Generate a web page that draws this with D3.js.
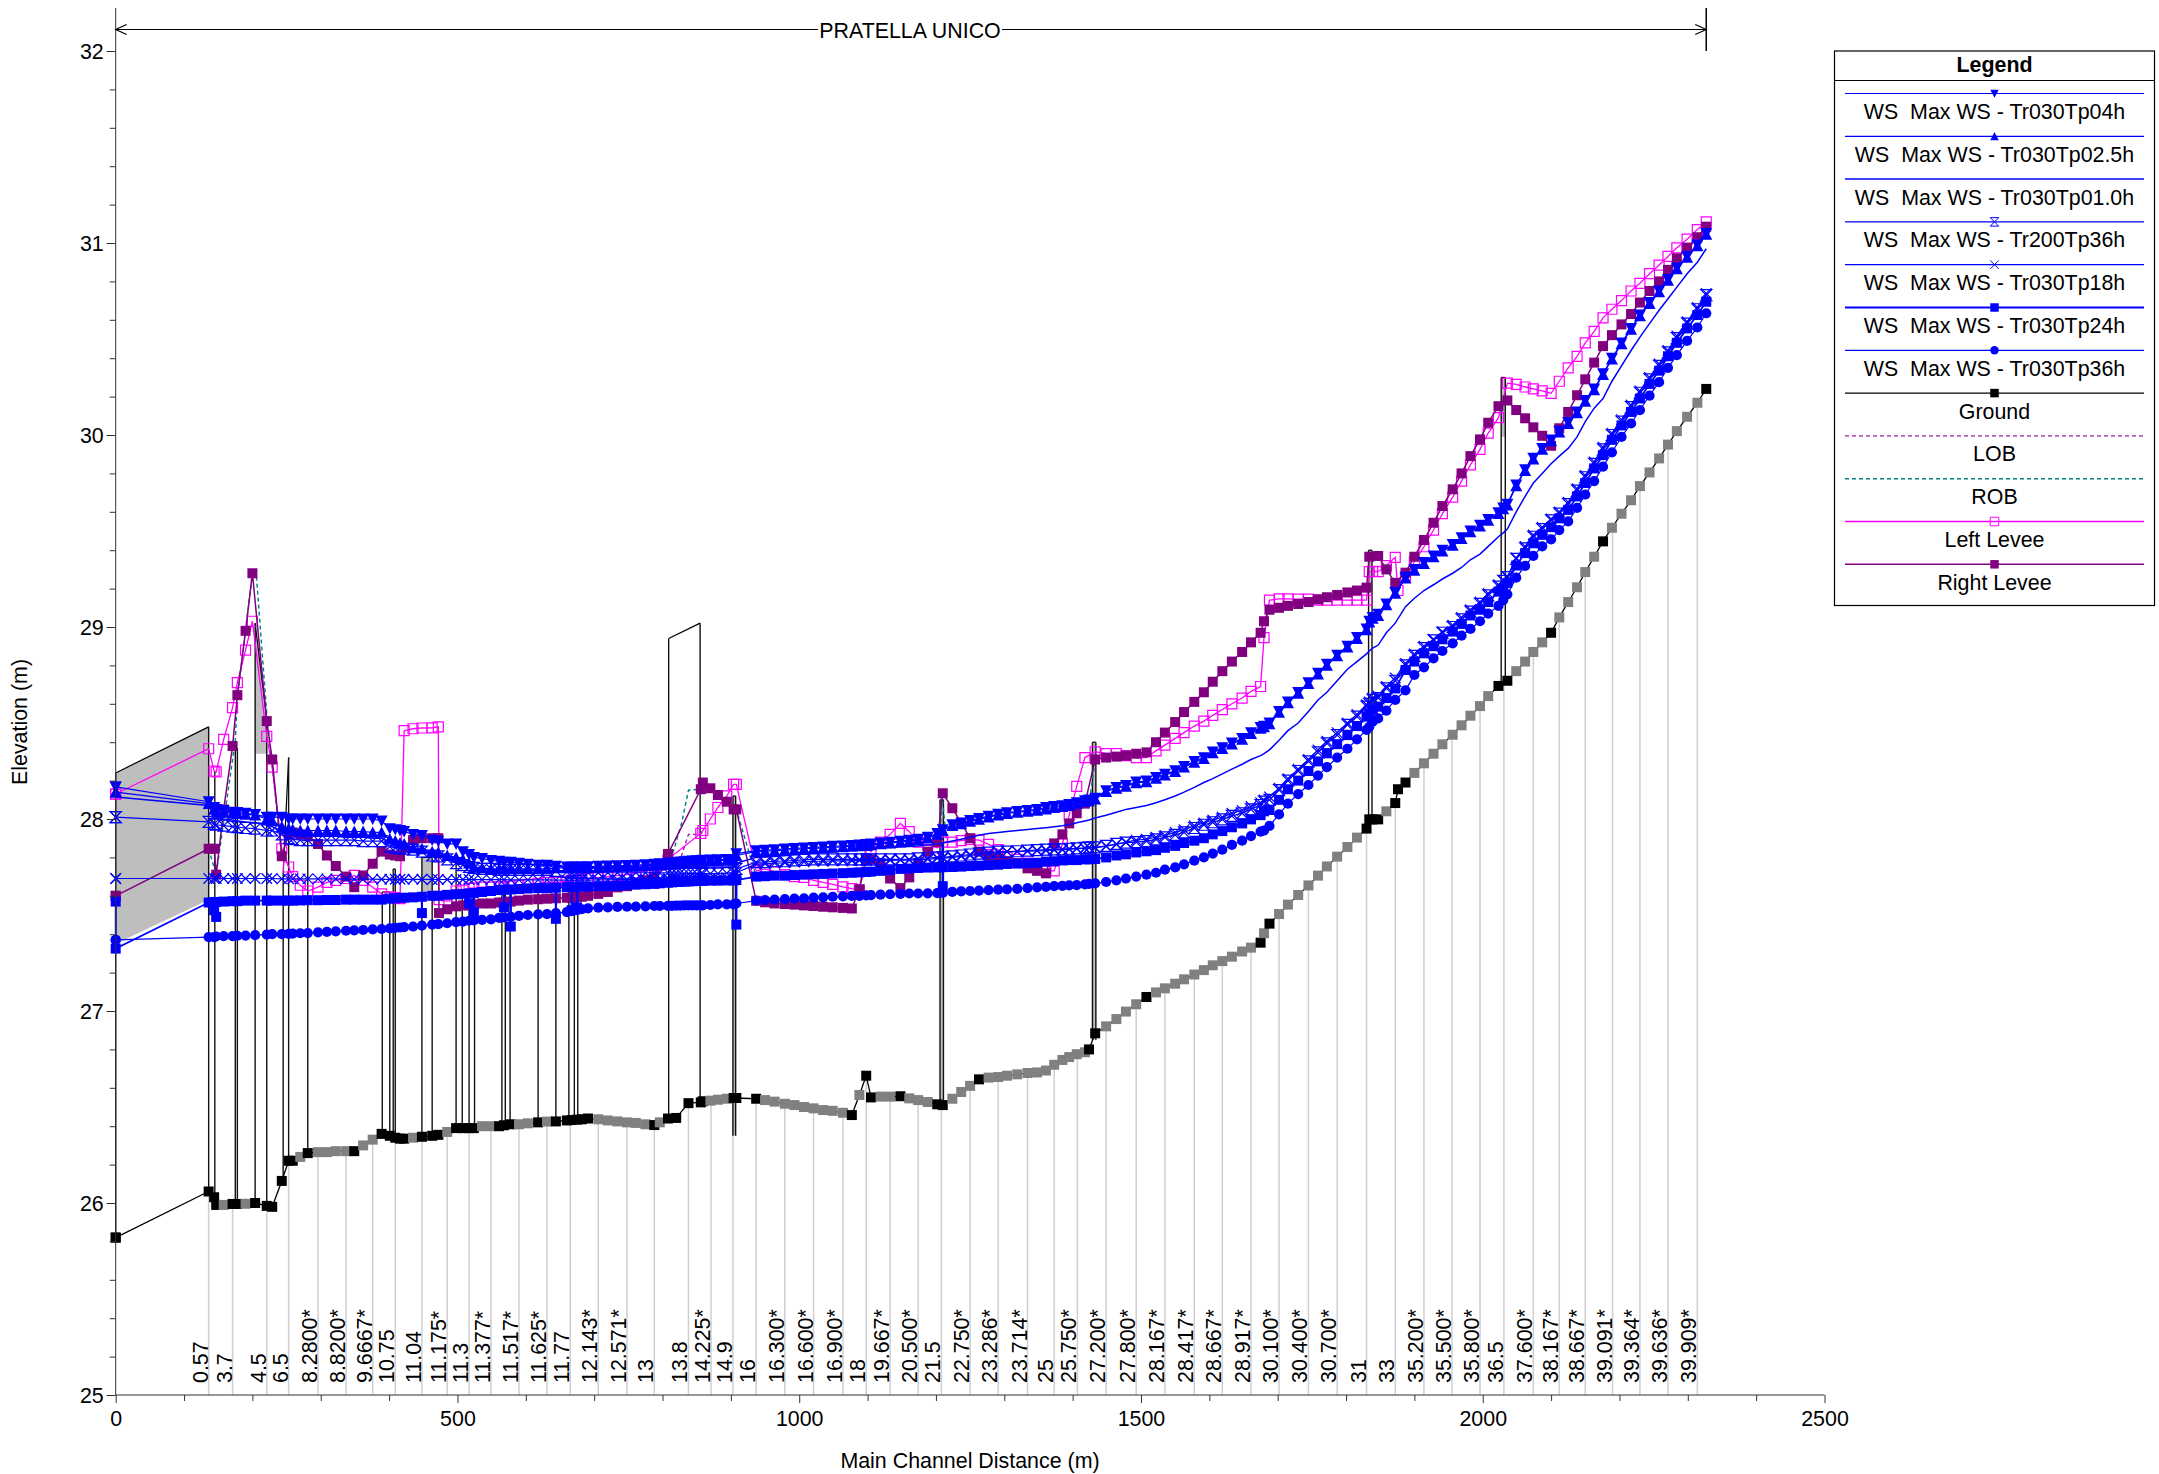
<!DOCTYPE html>
<html lang="en">
<head>
<meta charset="utf-8">
<title>Pratella Unico</title>
<script src="https://cdn.jsdelivr.net/npm/d3@7/dist/d3.min.js"></script>
<style>
    html, body { margin: 0; background: #fff; }
    svg text { font-family: "Liberation Sans", Arial, sans-serif; font-size: 21.4px; fill: #000; white-space: pre; }
    .axis path, .axis line { stroke: #333; }
</style>
</head>
<body>
<div id="chart"></div>
<script>
const n = null;

// cross sections, distance along the main channel (m)
const dist = [
0,0,136,144,147,158,171,178,190,200,
204,221,229,243,253,259,270,281,296,309,
322,337,349,362,376,389,401,409,416,422,
435,448,463,472,473,485,498,508,517,524,
536,549,561,568,578,590,603,618,631,644,
660,667,675,682,691,706,720,734,748,761,
775,788,796,808,814,820,826,832,838,844,
850,856,859,870,881,894,904,908,937,950,
964,979,993,1007,1021,1035,1049,1064,1077,1088,
1098,1105,1119,1133,1148,1161,1174,1188,1202,1210,
1224,1237,1250,1263,1277,1291,1304,1319,1334,1348,
1361,1373,1385,1395,1406,1418,1424,1433,1449,1464,
1478,1493,1508,1522,1535,1550,1563,1578,1592,1605,
1619,1633,1648,1661,1675,1680,1688,1702,1715,1730,
1745,1759,1772,1787,1802,1816,1830,1834,1839,1847,
1859,1872,1876,1887,1900,1914,1928,1941,1956,1969,
1982,1996,2008,2023,2030,2036,2049,2062,2074,2087,
2100,2112,2125,2138,2150,2163,2176,2189,2203,2217,
2230,2244,2258,2271,2284,2299,2314,2327];

const ground = [
25.82,25.82,26.06,26.03,25.99,25.99,25.995,25.995,25.996,n,
26,25.985,25.98,26.115,26.22,26.22,26.24,26.26,26.265,26.265,
26.27,26.27,26.27,26.30,26.33,26.36,26.35,26.34,26.335,26.335,
26.34,26.345,26.35,26.355,n,26.37,26.39,26.39,26.39,26.39,
26.40,26.40,26.40,26.405,26.41,26.41,26.415,26.42,26.424,26.425,
26.43,26.432,26.434,26.436,26.44,26.436,26.43,26.425,26.42,26.417,
26.41,26.406,26.42,26.44,n,26.443,n,n,26.52,n,
n,26.524,26.53,26.533,26.538,26.543,26.547,26.547,26.543,26.536,
26.528,26.517,26.51,26.50,26.493,26.484,26.48,26.47,26.458,26.5625,
26.663,26.55,26.554,26.554,26.556,26.545,26.536,26.526,26.514,26.51,
26.543,26.578,26.61,26.644,26.653,26.656,26.663,26.67,26.677,26.68,
26.69,26.72,26.745,26.76,26.775,26.785,26.80,26.884,26.92,26.958,
26.997,27.035,27.073,27.097,27.118,27.142,27.165,27.19,27.213,27.238,
27.26,27.283,27.31,27.33,27.356,27.405,27.455,27.505,27.554,27.604,
27.654,27.705,27.753,27.804,27.854,27.903,27.95,27.998,27.998,27.998,
28.04,28.083,28.155,28.19,28.24,28.29,28.34,28.389,28.439,28.488,
28.538,28.588,28.64,28.693,n,28.72,28.77,28.82,28.87,28.92,
28.97,29.05,29.13,29.207,29.286,29.366,29.446,29.517,29.59,29.66,
29.734,29.805,29.878,29.95,30.02,30.095,30.168,30.24];

// surveyed sections, the rest of the ground markers are interpolated (grey)
const surveyed = [0,136,144,147,171,178,204,221,229,243,253,259,281,349,389,401,409,416,422,448,463,472,498,508,517,524,
561,568,578,618,644,660,667,675,682,691,788,808,820,838,856,859,904,908,937,1077,1098,1105,1148,1202,1210,1263,1424,1433,
1508,1675,1688,1830,1834,1839,1847,1872,1876,1887,2023,2036,2100,2176,2327];

const wsTp04 = [
28.167,28.167,28.09,28.06,28.05,28.045,28.036,28.034,28.03,n,
28.024,28.01,28.01,28.01,28,28,28,28,28,28,
28,28,28,28,28,27.99,27.95,27.945,27.94,27.935,
27.92,27.915,27.89,27.885,n,27.87,27.87,27.83,27.815,27.80,
27.795,27.785,27.78,27.775,27.775,27.77,27.765,27.76,27.76,27.755,
27.75,27.75,27.75,27.75,27.752,27.755,27.756,27.757,27.758,27.76,
27.762,27.765,27.767,27.77,27.772,27.774,27.776,27.778,27.78,27.782,
27.783,27.785,27.786,27.787,27.788,27.789,27.79,27.82,27.835,27.838,
27.84,27.844,27.847,27.85,27.852,27.855,27.858,27.86,27.863,27.865,
27.868,27.87,27.875,27.88,27.885,27.89,27.895,27.905,27.925,27.945,
27.97,27.98,27.993,28.003,28.015,28.025,28.033,28.04,28.045,28.05,
28.06,28.066,28.07,28.076,28.085,28.095,28.10,28.108,28.148,28.165,
28.175,28.193,28.198,28.217,28.233,28.252,28.274,28.30,28.32,28.35,
28.372,28.396,28.42,28.45,28.477,28.484,28.50,28.56,28.61,28.66,
28.71,28.76,28.807,28.854,28.90,28.946,28.99,29.03,29.05,29.067,
29.12,29.18,n,29.26,29.30,29.337,29.37,29.40,29.43,29.465,
29.50,29.53,29.56,29.595,29.62,29.64,29.74,29.82,29.88,29.93,
29.975,30.02,30.066,30.12,30.18,30.24,30.32,30.40,30.48,30.555,
30.625,30.69,30.75,30.81,30.87,30.93,30.99,31.05];

const wsTp025 = [
28.14,28.14,28.08,28.05,28.036,28.034,28.03,28.028,28.024,n,
28.02,28,27.99,27.96,27.95,27.945,27.94,27.94,27.94,27.94,
27.94,27.935,27.935,27.935,27.93,27.93,27.895,27.885,27.875,27.87,
27.85,27.845,27.83,27.825,n,27.81,27.80,27.79,27.77,27.75,
27.745,27.74,27.74,27.74,27.74,27.74,27.74,27.74,27.74,27.745,
27.745,27.745,27.745,27.745,27.747,27.75,27.751,27.752,27.753,27.755,
27.757,27.76,27.762,27.765,27.767,27.769,27.771,27.773,27.775,27.777,
27.778,27.78,27.781,27.782,27.783,27.784,27.785,27.81,27.83,27.832,
27.834,27.838,27.84,27.845,27.847,27.85,27.852,27.855,27.858,27.86,
27.862,27.865,27.87,27.875,27.88,27.885,27.89,27.90,27.92,27.94,
27.965,27.975,27.988,27.998,28.01,28.02,28.028,28.035,28.04,28.045,
28.052,28.06,28.065,28.07,28.08,28.09,28.095,28.103,28.143,28.16,
28.17,28.188,28.193,28.212,28.228,28.247,28.27,28.295,28.315,28.345,
28.367,28.39,28.415,28.445,28.472,28.48,28.495,28.555,28.605,28.655,
28.705,28.755,28.80,28.85,28.895,28.94,28.985,29.025,29.045,29.06,
29.115,29.175,n,29.255,29.295,29.33,29.365,29.395,29.425,29.46,
29.495,29.525,29.555,29.59,29.615,29.635,29.735,29.815,29.875,29.925,
29.97,30.015,30.06,30.115,30.175,30.235,30.315,30.395,30.475,30.55,
30.62,30.685,30.745,30.805,30.865,30.925,30.985,31.045];

const wsTp01 = [
28.115,28.115,28.07,28.02,28.01,28,27.995,27.99,27.985,n,
27.98,27.97,27.96,27.93,27.92,27.915,27.91,27.91,27.91,27.91,
27.91,27.905,27.905,27.905,27.90,27.90,27.88,27.875,27.87,27.865,
27.845,27.835,27.82,27.815,n,27.80,27.79,27.775,27.76,27.745,
27.74,27.735,27.735,27.735,27.735,27.73,27.73,27.73,27.73,27.73,
27.73,27.73,27.73,27.73,27.73,27.73,27.73,27.731,27.731,27.732,
27.733,27.735,27.737,27.74,27.741,27.742,27.743,27.744,27.745,27.746,
27.747,27.748,27.749,27.75,27.75,27.75,27.75,27.77,27.80,27.802,
27.805,27.81,27.815,27.82,27.822,27.825,27.83,27.835,27.84,27.842,
27.845,27.848,27.85,27.852,27.855,27.857,27.86,27.865,27.87,27.875,
27.885,27.895,27.905,27.915,27.925,27.93,27.935,27.94,27.945,27.95,
27.955,27.96,27.965,27.97,27.98,27.99,27.995,28.005,28.02,28.035,
28.05,28.06,28.07,28.085,28.10,28.12,28.14,28.165,28.19,28.21,
28.235,28.26,28.285,28.31,28.33,28.34,28.36,28.41,28.46,28.50,
28.56,28.62,28.66,28.72,28.78,28.82,28.86,28.875,28.89,28.906,
28.97,29.02,n,29.106,29.15,29.19,29.22,29.25,29.28,29.31,
29.35,29.38,29.42,29.47,29.49,29.51,29.60,29.68,29.75,29.80,
29.85,29.89,29.93,29.99,30.07,30.14,30.19,30.28,30.36,30.44,
30.51,30.58,30.65,30.71,30.77,30.84,30.90,30.97];

const wsTr200 = [
28.01,28.01,27.985,27.975,27.97,27.965,27.96,27.958,27.953,n,
27.95,27.94,27.94,27.92,27.90,27.895,27.89,27.89,27.89,27.89,
27.89,27.89,27.89,27.885,27.885,27.885,27.856,27.85,27.848,27.845,
27.84,27.83,27.81,27.805,n,27.79,27.77,27.76,27.75,27.745,
27.74,27.74,27.735,27.735,27.735,27.735,27.735,27.735,27.735,27.73,
27.725,27.72,27.72,27.72,27.72,27.72,27.72,27.72,27.72,27.72,
27.72,27.72,27.72,27.72,27.72,27.72,27.72,27.715,27.715,27.715,
27.715,27.715,27.715,27.715,27.715,27.718,27.72,27.74,27.775,27.775,
27.78,27.78,27.785,27.787,27.79,27.79,27.79,27.79,27.79,27.79,
27.79,27.79,27.79,27.79,27.79,27.79,27.795,27.797,27.80,27.80,
27.805,27.81,27.815,27.82,27.825,27.83,27.83,27.832,27.835,27.838,
27.84,27.842,27.842,27.845,27.847,27.85,27.852,27.852,27.86,27.87,
27.877,27.88,27.885,27.894,27.904,27.917,27.93,27.953,27.97,27.983,
27.998,28.016,28.03,28.05,28.073,28.09,28.10,28.15,28.20,28.25,
28.30,28.347,28.394,28.437,28.49,28.533,28.585,28.60,28.62,28.63,
28.68,28.72,n,28.80,28.85,28.89,28.93,28.97,29.0,29.04,
29.08,29.12,29.165,29.21,29.24,29.26,29.355,29.41,29.47,29.51,
29.555,29.59,29.64,29.71,29.78,29.85,29.925,30.0,30.07,30.145,
30.22,30.29,30.36,30.43,30.505,30.58,30.655,30.728];

const wsTp18 = [
27.69,27.69,27.69,27.69,27.69,27.69,27.69,27.69,27.69,n,
27.69,27.69,27.69,27.688,27.688,27.688,27.688,27.688,27.688,27.688,
27.688,27.688,27.687,27.687,27.687,27.686,27.686,27.686,27.686,27.686,
27.686,27.686,27.685,27.685,n,27.685,27.685,27.685,27.685,27.684,
27.684,27.684,27.684,27.684,27.683,27.683,27.683,27.683,27.683,27.682,
27.682,27.682,27.682,27.682,27.682,27.683,27.683,27.684,27.684,27.685,
27.686,27.688,27.689,27.69,27.69,27.69,27.69,27.69,27.69,27.69,
27.69,27.69,27.69,27.69,27.69,27.695,27.70,27.72,27.765,27.767,
27.77,27.772,27.775,27.777,27.78,27.78,27.782,27.782,27.782,27.784,
27.784,27.785,27.785,27.785,27.786,27.786,27.788,27.79,27.795,27.795,
27.80,27.805,27.81,27.815,27.82,27.825,27.83,27.83,27.832,27.834,
27.835,27.838,27.84,27.842,27.845,27.847,27.85,27.85,27.858,27.868,
27.88,27.89,27.895,27.905,27.915,27.93,27.945,27.965,27.98,27.995,
28.01,28.03,28.045,28.065,28.085,28.10,28.115,28.16,28.21,28.26,
28.31,28.36,28.405,28.45,28.50,28.545,28.595,28.61,28.63,28.64,
28.69,28.735,n,28.81,28.86,28.90,28.936,28.976,29.01,29.05,
29.09,29.13,29.175,29.22,29.24,29.26,29.36,29.42,29.48,29.52,
29.563,29.60,29.65,29.72,29.79,29.86,29.936,30.01,30.08,30.156,
30.23,30.30,30.37,30.44,30.516,30.59,30.665,30.738];

const wsTp24 = [
27.57,27.325,27.565,27.567,27.568,27.57,27.572,27.572,27.575,n,
27.575,27.575,27.575,27.575,27.575,27.575,27.576,27.577,27.577,27.578,
27.578,27.58,27.58,27.58,27.58,27.58,27.585,27.587,27.589,27.59,
27.592,27.595,27.60,27.60,n,27.605,27.608,27.61,27.612,27.615,
27.62,27.625,27.63,27.632,27.633,27.635,27.638,27.64,27.64,27.642,
27.645,27.646,27.647,27.648,27.648,27.65,27.65,27.652,27.655,27.658,
27.66,27.662,27.665,27.668,27.67,27.672,27.673,27.674,27.675,27.676,
27.677,27.678,27.678,27.679,27.679,27.68,27.68,27.682,27.70,27.702,
27.705,27.705,27.708,27.71,27.712,27.714,27.716,27.718,27.72,27.722,
27.724,27.726,27.73,27.734,27.74,27.742,27.745,27.747,27.748,27.749,
27.75,27.752,27.755,27.757,27.76,27.762,27.766,27.768,27.77,27.772,
27.778,27.78,27.784,27.786,27.786,27.79,27.79,27.792,27.80,27.81,
27.816,27.826,27.832,27.838,27.85,27.86,27.875,27.887,27.90,27.92,
27.937,27.957,27.977,27.998,28.02,28.04,28.047,28.10,28.155,28.20,
28.25,28.30,28.342,28.39,28.437,28.484,28.533,28.55,28.57,28.585,
28.63,28.68,n,28.776,28.82,28.863,28.90,28.936,28.976,29.016,
29.06,29.09,29.13,29.184,29.20,29.23,29.32,29.385,29.436,29.48,
29.52,29.566,29.61,29.68,29.75,29.826,29.895,29.975,30.05,30.12,
30.19,30.266,30.335,30.41,30.48,30.555,30.625,30.694];

// Tp24h drops at the bridge faces: same station, from the row down to a lower value
const dropDist = [144,147,448,517,524,568,578,644,667,675,908,1210];
const dropFrom = [27.567,27.568,27.595,27.612,27.615,27.632,27.633,27.642,27.646,27.647,27.82,27.88];
const dropElev = [27.525,27.49,27.51,27.56,27.515,27.54,27.44,27.48,27.525,27.54,27.45,27.65];

const wsTp36 = [
27.37,27.37,27.385,27.385,27.388,27.39,27.39,27.392,27.393,n,
27.395,27.398,27.40,27.40,27.402,27.403,27.405,27.406,27.41,27.412,
27.415,27.418,27.42,27.422,27.425,27.427,27.43,27.433,27.435,27.437,
27.44,27.445,27.45,27.452,n,27.457,27.463,27.465,27.47,27.472,
27.475,27.477,27.485,27.487,27.49,27.495,27.50,27.503,27.505,27.51,
27.515,27.52,27.525,27.53,27.535,27.538,27.54,27.542,27.543,27.544,
27.545,27.547,27.547,27.548,27.548,27.549,27.549,27.55,27.55,27.55,
27.55,27.55,27.55,27.552,27.555,27.555,27.555,27.56,27.575,27.578,
27.58,27.583,27.585,27.587,27.59,27.592,27.595,27.597,27.60,27.60,
27.602,27.604,27.606,27.608,27.61,27.612,27.612,27.613,27.614,27.615,
27.62,27.623,27.625,27.627,27.63,27.632,27.634,27.636,27.64,27.644,
27.647,27.65,27.652,27.654,27.656,27.66,27.662,27.665,27.672,27.68,
27.69,27.70,27.71,27.72,27.736,27.748,27.764,27.783,27.80,27.82,
27.84,27.865,27.887,27.911,27.934,27.94,27.964,28.024,28.08,28.13,
28.177,28.226,28.27,28.32,28.366,28.415,28.464,28.48,28.507,28.524,
28.564,28.62,n,28.67,28.75,28.79,28.837,28.875,28.915,28.955,
28.99,29.03,29.07,29.11,29.14,29.17,29.257,29.318,29.37,29.42,
29.456,29.505,29.55,29.62,29.69,29.76,29.835,29.91,29.99,30.06,
30.13,30.205,30.275,30.35,30.416,30.49,30.56,30.634];

const leftLevee = [
28.13,28.13,28.366,28.25,28.245,28.415,28.58,28.71,28.88,29.03,
n,28.43,28.27,27.845,27.75,27.70,27.655,27.625,27.645,27.67,
27.68,27.69,27.706,27.68,27.645,27.61,27.595,27.59,27.585,28.46,
28.47,28.474,28.475,28.48,27.58,27.60,27.625,27.63,27.64,27.64,
27.645,27.645,27.647,27.648,27.65,27.655,27.66,27.665,27.67,27.67,
27.675,27.68,27.68,27.685,27.69,27.695,27.70,27.705,27.71,27.72,
27.73,27.74,27.76,27.79,n,n,n,n,n,n,
n,27.925,27.94,28.0,28.06,28.12,28.18,28.18,27.73,27.74,
27.725,27.71,27.70,27.696,27.68,27.67,27.66,27.647,27.637,27.63,
27.865,27.83,27.88,27.92,27.977,27.934,27.88,27.865,27.85,27.88,
27.88,27.887,27.894,27.89,27.868,27.84,27.80,27.79,27.77,27.75,
27.73,27.73,27.87,28.02,28.17,28.32,n,28.35,28.34,28.34,
28.33,28.32,28.32,28.355,28.385,28.42,28.45,28.484,28.51,28.54,
28.57,28.60,28.63,28.665,28.69,28.945,29.14,29.146,29.146,29.145,
29.145,29.14,29.14,29.14,29.14,29.14,29.14,29.288,29.29,29.288,
29.32,29.363,29.19,29.26,29.34,29.418,29.505,29.59,29.676,29.76,
29.844,29.925,30.01,30.09,n,30.27,30.264,30.25,30.24,30.23,
30.217,30.28,30.35,30.41,30.48,30.54,30.61,30.655,30.70,30.75,
30.79,30.84,30.885,30.93,30.975,31.02,31.07,31.11];

const rightLevee = [
27.60,27.60,27.845,27.845,27.71,28.05,28.38,28.645,28.98,29.28,
n,28.51,28.31,27.806,27.92,27.93,27.92,27.91,27.87,27.81,
27.755,27.70,27.645,27.706,27.767,27.83,27.815,27.81,27.806,27.85,
27.89,27.90,27.90,27.90,27.51,27.53,27.545,27.55,27.55,27.555,
27.56,27.56,27.565,27.565,27.57,27.575,27.58,27.582,27.585,27.587,
27.59,27.59,27.595,27.595,27.60,27.61,27.62,27.644,27.65,27.665,
27.68,27.70,27.76,27.818,n,n,n,n,n,n,
n,28.155,28.19,28.16,28.125,28.09,28.05,28.05,27.574,27.566,
27.56,27.557,27.554,27.55,27.547,27.543,27.54,27.537,27.534,27.634,
27.79,27.79,27.77,27.69,27.64,27.696,27.77,27.83,27.88,28.134,
28.056,27.98,27.90,27.83,27.81,27.795,27.78,27.77,27.743,27.73,
27.717,27.873,27.92,27.977,28.03,28.08,n,28.31,28.32,28.325,
28.33,28.34,28.347,28.40,28.45,28.505,28.557,28.61,28.66,28.715,
28.77,28.82,28.87,28.92,28.97,29.03,29.09,29.10,29.11,29.12,
29.13,29.144,29.155,29.167,29.18,29.19,29.205,29.366,n,29.37,
29.30,29.23,n,29.283,29.366,29.453,29.543,29.63,29.717,29.80,
29.89,29.977,30.064,30.15,n,30.18,30.13,30.087,30.04,29.996,
29.944,30.035,30.12,30.207,30.29,30.377,30.463,30.52,30.576,30.63,
30.69,30.75,30.80,30.86,30.92,30.976,31.03,31.085];

// bank stations, only the stretches that show above the water surface lines
const lobDist = [808,826,838,856,859];
const lobElev = [27.72,27.79,27.92,27.92,27.94];
const robDist = [136,147,175,178,190,200,206,221,243,n,812,815,828,838,856,859,908,937,n,1205,1209,1215,n,1425,1433];
const robElev = [27.845,27.71,28.41,28.63,28.98,29.28,29.26,28.55,27.8,n,27.75,27.82,27.98,28.15,28.155,28.19,28.05,27.70,n,27.8,28.13,27.9,n,28.1,28.31];

// station labels and the light lines under them
const labelDist = [136,171,221,253,296,337,376,409,448,485,517,549,590,631,665,706,748,788,838,871,903,937,979,1021,1064,1098,1133,1174,1208,1250,1291,1334,1373,1407,1449,1493,1535,1578,1619,1661,1702,1745,1787,1830,1872,1914,1955,1996,2031,2074,2112,2150,2190,2230,2271,2314];
const labelText = ["0.57","3.7","4.5","6.5","8.2800*","8.8200*","9.6667*","10.75","11.04","11.175*","11.3","11.377*","11.517*","11.625*","11.77","12.143*","12.571*","13","13.8","14.225*","14.9","16","16.300*","16.600*","16.900*","18","19.667*","20.500*","21.5","22.750*","23.286*","23.714*","25","25.750*","27.200*","27.800*","28.167*","28.417*","28.667*","28.917*","30.100*","30.400*","30.700*","31","33","35.200*","35.500*","35.800*","36.5","37.600*","38.167*","38.667*","39.091*","39.364*","39.636*","39.909*"];

// bridges and culverts: deck from start to end, filled between top and low chord
const deckStart = [0,175,204,245,390,406,448,809,903,1206,1429,1833,2027];
const deckEnd   = [136,178,221,253,401,409,463,855,907,1211,1434,1838,2033];
const deckTop1  = [28.24,28.37,29.02,27.72,27.62,27.74,27.80,28.94,28.12,28.10,28.40,29.40,30.30];
const deckTop2  = [28.48,28.37,28.52,28.32,27.62,27.74,27.80,29.02,28.12,28.10,28.40,29.40,30.30];
const deckLow1  = [27.35,28.37,28.34,27.72,27.62,27.74,27.60,28.94,26.35,26.52,26.85,29.19,29.99];
const deckLow2  = [27.58,28.37,28.34,28.32,27.62,27.74,27.60,29.02,26.35,26.52,26.85,29.19,29.99];
// other piers, drawn from the ground up
const pierDist = [145,281,498,507,517,525,565,570,577,618,644,663,671,676];
const pierTop  = [28.25,27.91,27.77,27.62,27.62,27.62,27.62,27.62,27.62,27.62,27.62,27.62,27.62,27.62];

const xTicks = [0,500,1000,1500,2000,2500];
const xMinor = [100,200,300,400,600,700,800,900,1100,1200,1300,1400,1600,1700,1800,1900,2100,2200,2300,2400];
const yTicks = [25,26,27,28,29,30,31,32];
const yMinor = [25.2,25.4,25.6,25.8,26.2,26.4,26.6,26.8,27.2,27.4,27.6,27.8,28.2,28.4,28.6,28.8,29.2,29.4,29.6,29.8,30.2,30.4,30.6,30.8,31.2,31.4,31.6,31.8];

const width = 2159, height = 1474;
const svg = d3.select("#chart").append("svg")
    .attr("width", width)
    .attr("height", height)
    .style("display", "block");

const x = d3.scaleLinear().domain([0, 2500]).range([115.7, 1824.5]);
const y = d3.scaleLinear().domain([25, 32]).range([1395, 51]);

// marker shapes
const square = s => d3.symbol(d3.symbolSquare, s * s)();
const circle = s => d3.symbol(d3.symbolCircle, Math.PI * s * s / 4)();
const tri = (s, dir) => `M${-s/2},${-dir*s*0.45}L${s/2},${-dir*s*0.45}L0,${dir*s*0.5}Z`;
const cross = s => `M${-s/2},${-s/2}L${s/2},${s/2}M${s/2},${-s/2}L${-s/2},${s/2}`;
const hourglass = s => `M${-s/2},${-s/2}L${s/2},${-s/2}L${-s/2},${s/2}L${s/2},${s/2}Z`;

const blue = "#0000ff";
const series = [
    {name: "WS  Max WS - Tr030Tp04h",  vals: wsTp04,  color: blue, w: 1.2, mark: s => tri(s, 1),  fill: blue, size: 12},
    {name: "WS  Max WS - Tr030Tp02.5h", vals: wsTp025, color: blue, w: 1.2, mark: s => tri(s, -1), fill: blue, size: 12},
    {name: "WS  Max WS - Tr030Tp01.0h", vals: wsTp01,  color: blue, w: 1.5},
    {name: "WS  Max WS - Tr200Tp36h",  vals: wsTr200, color: blue, w: 1.2, mark: hourglass, fill: "none", size: 11},
    {name: "WS  Max WS - Tr030Tp18h",  vals: wsTp18,  color: blue, w: 1.2, mark: cross, fill: "none", size: 10.5},
    {name: "WS  Max WS - Tr030Tp24h",  vals: wsTp24,  color: blue, w: 1.8, mark: square, fill: blue, size: 10},
    {name: "WS  Max WS - Tr030Tp36h",  vals: wsTp36,  color: blue, w: 1.2, mark: circle, fill: blue, size: 10.2},
    {name: "Ground", color: "#000", w: 1.3, mark: square, fill: "#000", size: 10},
    {name: "LOB", color: "#a020a0", w: 1.4, dash: "4,3"},
    {name: "ROB", color: "#008080", w: 1.4, dash: "4,3"},
    {name: "Left Levee", color: "#ff00ff", w: 1.3, mark: square, fill: "none", size: 10},
    {name: "Right Levee", color: "#800080", w: 1.5, mark: square, fill: "#800080", size: 10}
];

const line = d3.line().defined(d => d[1] !== null).x(d => x(d[0])).y(d => y(d[1]));
const pts = vals => dist.map((d, i) => [d, vals[i]]).filter(d => d[1] !== null);
const groundPts = pts(ground);
const groundAt = m => d3.least(groundPts, d => Math.abs(d[0] - m))[1];

// light station lines
svg.append("g").selectAll("line").data(labelDist).join("line")
    .attr("x1", d => x(d)).attr("x2", d => x(d))
    .attr("y1", d => y(groundAt(d))).attr("y2", y(25))
    .attr("stroke", "#cfcfcf").attr("stroke-width", 1.5);

// decks and piers
const decks = deckStart.map((d, i) => ({s: d, e: deckEnd[i], t1: deckTop1[i], t2: deckTop2[i], l1: deckLow1[i], l2: deckLow2[i]}));
const structures = svg.append("g").attr("class", "structures");
structures.selectAll("path.fill").data(decks).join("path")
    .attr("class", "fill")
    .attr("d", d => line([[d.s, d.t1], [d.e, d.t2], [d.e, d.l2], [d.s, d.l1]]) + "Z")
    .attr("fill", "#bebebe");
structures.selectAll("path.top").data(decks).join("path")
    .attr("class", "top")
    .attr("d", d => line([[d.s, d.t1], [d.e, d.t2]]))
    .attr("fill", "none").attr("stroke", "#000").attr("stroke-width", 1.2);
structures.selectAll("path.sides").data(decks).join("path")
    .attr("class", "sides")
    .attr("d", d => line([[d.s, d.t1], [d.s, Math.min(groundAt(d.s), d.l1)]]) + line([[d.e, d.t2], [d.e, Math.min(groundAt(d.e), d.l2)]]))
    .attr("fill", "none").attr("stroke", "#111").attr("stroke-width", 1.4);
structures.selectAll("line").data(pierDist).join("line")
    .attr("x1", d => x(d)).attr("x2", d => x(d))
    .attr("y1", (d, i) => y(pierTop[i])).attr("y2", d => y(groundAt(d)))
    .attr("stroke", "#111").attr("stroke-width", 1.4);

// one series: line then markers
function drawSeries(s, data, colorOf) {
    const g = svg.append("g");
    g.append("path")
        .attr("d", line(data))
        .attr("fill", "none")
        .attr("stroke", s.color)
        .attr("stroke-width", s.w)
        .attr("stroke-dasharray", s.dash || null);
    if (s.mark) {
        g.selectAll("path.m").data(data).join("path")
            .attr("class", "m")
            .attr("d", s.mark(s.size))
            .attr("transform", d => `translate(${x(d[0])},${y(d[1])})`)
            .attr("fill", d => s.fill === "none" ? "none" : (colorOf ? colorOf(d) : s.fill))
            .attr("stroke", d => s.fill === "none" ? s.color : "none")
            .attr("stroke-width", 1.2);
    }
}

const blackSet = new Set(surveyed);
drawSeries(series[7], groundPts, d => blackSet.has(d[0]) ? "#000" : "#808080");
drawSeries(series[8], lobDist.map((d, i) => [d, lobElev[i]]));
drawSeries(series[9], robDist.map((d, i) => [d, robElev[i]]));
drawSeries(series[10], pts(leftLevee));
drawSeries(series[11], pts(rightLevee));
[0, 1, 2, 3, 4, 5, 6].forEach(i => drawSeries(series[i], pts(series[i].vals)));

// Tp24h drops at the bridge faces
const drops = svg.append("g");
drops.selectAll("line").data(dropDist).join("line")
    .attr("x1", d => x(d)).attr("x2", d => x(d))
    .attr("y1", (d, i) => y(dropFrom[i])).attr("y2", (d, i) => y(dropElev[i]))
    .attr("stroke", blue).attr("stroke-width", 2.2);
drops.selectAll("path").data(dropDist).join("path")
    .attr("d", square(10))
    .attr("transform", (d, i) => `translate(${x(d)},${y(dropElev[i])})`)
    .attr("fill", blue);

// station labels
svg.append("g").selectAll("text").data(labelDist).join("text")
    .attr("transform", d => `translate(${x(d) - 1},1383) rotate(-90)`)
    .text((d, i) => labelText[i]);

// axes
const yAxis = svg.append("g").attr("class", "axis").attr("transform", `translate(${x(0)},0)`);
yAxis.call(d3.axisLeft(y).tickValues(yTicks).tickSize(9).tickFormat(d3.format("d")));
yAxis.selectAll("text").attr("x", -12).attr("dy", "0.36em");
yAxis.select(".domain").attr("d", `M0,8V${y(25)}`);
svg.append("g").attr("class", "axis").attr("transform", `translate(${x(0)},0)`)
    .call(d3.axisLeft(y).tickValues(yMinor).tickSize(6).tickFormat(""))
    .select(".domain").remove();

const xAxis = svg.append("g").attr("class", "axis").attr("transform", `translate(0,${y(25)})`);
xAxis.call(d3.axisBottom(x).tickValues(xTicks).tickSize(8).tickFormat(d3.format("d")));
xAxis.selectAll("text").attr("y", 23).attr("dy", "0.36em");
xAxis.select(".domain").attr("d", `M${x(0)},0H${x(2500)}`);
svg.append("g").attr("class", "axis").attr("transform", `translate(0,${y(25)})`)
    .call(d3.axisBottom(x).tickValues(xMinor).tickSize(6).tickFormat(""))
    .select(".domain").remove();
svg.selectAll(".axis text").style("font-family", '"Liberation Sans", Arial, sans-serif').style("font-size", "21.4px");

svg.append("text")
    .attr("x", 970).attr("y", 1468)
    .attr("text-anchor", "middle")
    .text("Main Channel Distance (m)");
svg.append("text")
    .attr("transform", "translate(27,722) rotate(-90)")
    .attr("text-anchor", "middle")
    .text("Elevation (m)");

// reach header
const reachEnd = x(2327), headY = 29.5;
const head = svg.append("g").attr("stroke", "#000").attr("fill", "none").attr("stroke-width", 1.2);
head.append("path").attr("d", `M${x(0)},${headY}H${reachEnd}`);
head.append("path").attr("d", `M${x(0) + 11},${headY - 5}L${x(0)},${headY}L${x(0) + 11},${headY + 5}`);
head.append("path").attr("d", `M${reachEnd - 11},${headY - 5}L${reachEnd},${headY}L${reachEnd - 11},${headY + 5}`);
head.append("path").attr("d", `M${reachEnd},8V51`).attr("stroke-width", 1.5);
svg.append("rect").attr("x", 818).attr("y", 18).attr("width", 184).attr("height", 24).attr("fill", "#fff");
svg.append("text").attr("x", 910).attr("y", 38).attr("text-anchor", "middle").text("PRATELLA UNICO");

// legend
const legend = svg.append("g");
legend.append("rect")
    .attr("x", 1834.5).attr("y", 51).attr("width", 320).attr("height", 554.5)
    .attr("fill", "#fff").attr("stroke", "#000").attr("stroke-width", 1.2);
legend.append("line")
    .attr("x1", 1834.5).attr("x2", 2154.5).attr("y1", 80.5).attr("y2", 80.5)
    .attr("stroke", "#000").attr("stroke-width", 1);
legend.append("text")
    .attr("x", 1994.5).attr("y", 72).attr("text-anchor", "middle")
    .style("font-weight", "bold").text("Legend");

const rowY = i => 93.5 + i * 42.8;
series.forEach((s, i) => {
    const row = legend.append("g").attr("transform", `translate(0,${rowY(i)})`);
    row.append("line")
        .attr("x1", 1845).attr("x2", 2144)
        .attr("stroke", s.color).attr("stroke-width", s.w)
        .attr("stroke-dasharray", s.dash || null);
    if (s.mark) {
        row.append("path")
            .attr("d", s.mark(8.5))
            .attr("transform", "translate(1994.5,0)")
            .attr("fill", s.fill).attr("stroke", s.fill === "none" ? s.color : "none");
    }
    row.append("text")
        .attr("x", 1994.5).attr("y", 25.5)
        .attr("text-anchor", "middle")
        .text(s.name);
});
</script>
</body>
</html>
